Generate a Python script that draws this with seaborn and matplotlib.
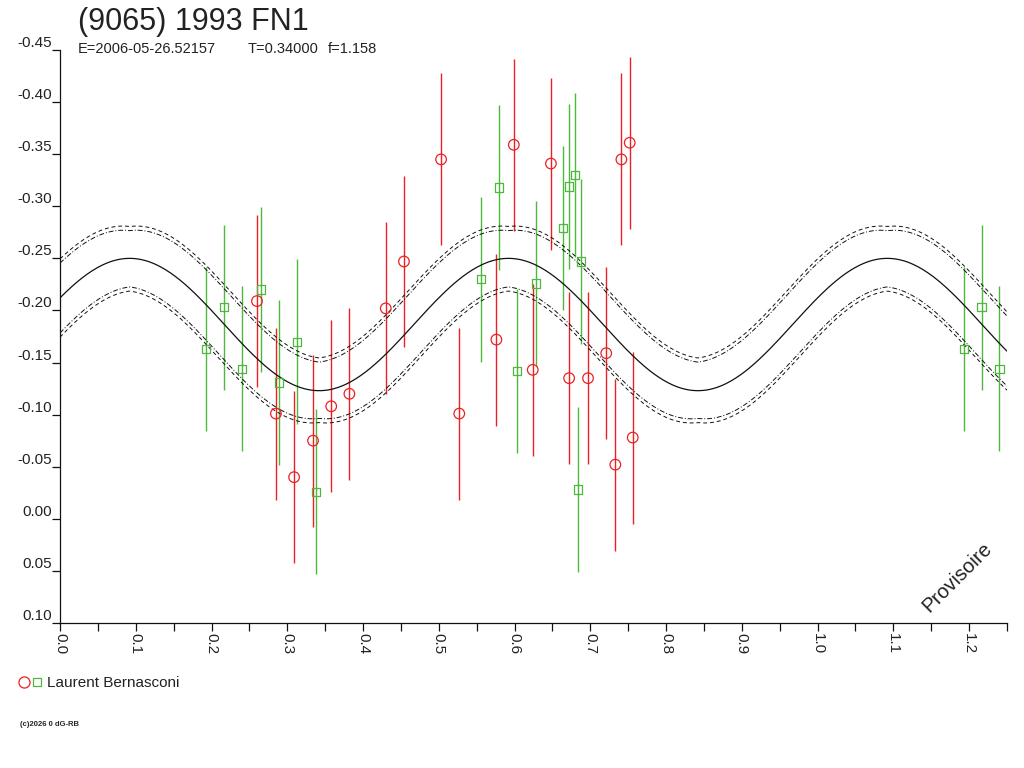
import numpy as np
import pandas as pd
import matplotlib
matplotlib.use("Agg")
import matplotlib.pyplot as plt
from matplotlib.legend_handler import HandlerTuple
from matplotlib.lines import Line2D
import seaborn as sns

red_phase = [0.260, 0.285, 0.309, 0.334, 0.358, 0.382, 0.430, 0.454, 0.503, 0.527, 0.576,
             0.599, 0.624, 0.648, 0.672, 0.697, 0.721, 0.733, 0.741, 0.752, 0.756]
red_mag = [-0.209, -0.101, -0.040, -0.075, -0.108, -0.120, -0.202, -0.247, -0.345, -0.101, -0.172,
           -0.359, -0.143, -0.341, -0.135, -0.135, -0.159, -0.052, -0.345, -0.361, -0.078]
red_err = 0.0825

green_phase = [0.193, 0.2165, 0.240, 0.265, 0.289, 0.313, 0.338, 0.556, 0.5795, 0.603, 0.628,
               0.664, 0.672, 0.680, 0.684, 0.688]
green_mag = [-0.163, -0.203, -0.144, -0.220, -0.131, -0.170, -0.026, -0.230, -0.318, -0.142, -0.226,
             -0.279, -0.319, -0.330, -0.028, -0.247]
green_err = 0.079

# fitted light curve (two maxima per rotation)
fit_mean = -0.1865
fit_amp = 0.0635
fit_peak = 0.092
fit_halfperiod = 0.5
band_outer = 0.031
band_inner = 0.027
band_shift = 0.009

title = "(9065) 1993 FN1"
info = ["E=2006-05-26.52157", "T=0.34000", "f=1.158"]
observer = "Laurent Bernasconi"
red_col = "#ec2024"
green_col = "#4cb83c"

sns.set_theme(style="white")
plt.rcParams["font.family"] = ["Liberation Sans", "DejaVu Sans"]


def model(x):
    return fit_mean - fit_amp * np.cos(2 * np.pi * (x - fit_peak) / fit_halfperiod)


# phases < 0.25 are repeated one cycle later
def wrap(ph, mag):
    df = pd.DataFrame({"phase": ph, "mag": mag})
    extra = df[df["phase"] + 1 <= 1.25].copy()
    extra["phase"] += 1
    return pd.concat([df, extra], ignore_index=True)


red = wrap(red_phase, red_mag)
green = wrap(green_phase, green_mag)

xs = np.linspace(0, 1.25, 600)
lo = np.minimum(model(xs - band_shift), model(xs + band_shift))
hi = np.maximum(model(xs - band_shift), model(xs + band_shift))
curves = pd.DataFrame({
    "phase": xs,
    "fit": model(xs),
    "up_out": lo - band_outer, "up_in": lo - band_inner,
    "dn_out": hi + band_outer, "dn_in": hi + band_inner,
})

fig = plt.figure(figsize=(10.24, 7.68), dpi=100)
ax = fig.add_axes([60 / 1024, 145 / 768, 947 / 1024, 573 / 768])

ax.errorbar(red["phase"], red["mag"], yerr=red_err, fmt="none", ecolor=red_col, elinewidth=1.0)
ax.errorbar(green["phase"], green["mag"], yerr=green_err, fmt="none", ecolor=green_col, elinewidth=1.0)

sns.lineplot(data=curves, x="phase", y="fit", ax=ax, color="#111111", lw=0.9)
sns.lineplot(data=curves, x="phase", y="up_out", ax=ax, color="#111111", lw=0.7, linestyle=(0, (4, 3)))
sns.lineplot(data=curves, x="phase", y="dn_out", ax=ax, color="#111111", lw=0.7, linestyle=(0, (4, 3)))
sns.lineplot(data=curves, x="phase", y="up_in", ax=ax, color="#111111", lw=0.7, linestyle=(0, (5, 2, 1, 2)))
sns.lineplot(data=curves, x="phase", y="dn_in", ax=ax, color="#111111", lw=0.7, linestyle=(0, (5, 2, 1, 2)))

sns.scatterplot(data=red, x="phase", y="mag", ax=ax, marker="o", s=58,
                facecolor="none", edgecolor=red_col, linewidth=0.9, zorder=5)
sns.scatterplot(data=green, x="phase", y="mag", ax=ax, marker="s", s=36,
                facecolor="none", edgecolor=green_col, linewidth=0.9, zorder=5)

ax.set_xlim(0, 1.25)
ax.set_ylim(0.10, -0.45)
ax.set_xlabel("")
ax.set_ylabel("")
for s in ["top", "right"]:
    ax.spines[s].set_visible(False)
for s in ["left", "bottom"]:
    ax.spines[s].set_color("#111111")
    ax.spines[s].set_linewidth(0.9)

yt = np.round(np.arange(-0.45, 0.1001, 0.05), 2)
ax.set_yticks(yt)
ax.set_yticklabels([f"{v:.2f}".replace("-0.00", "0.00") for v in yt])
ax.set_xticks(np.round(np.arange(0, 1.2001, 0.1), 1))
ax.set_xticklabels([f"{v:.1f}" for v in np.arange(0, 1.2001, 0.1)], rotation=270)
ax.set_xticks(np.round(np.arange(0.05, 1.2501, 0.1), 2), minor=True)
ax.tick_params(axis="both", which="both", direction="out", length=6, width=0.9,
               color="#111111", labelsize=11, labelcolor="#222222")
ax.tick_params(axis="x", which="both", bottom=True, pad=1)
ax.tick_params(axis="y", left=True, pad=0)
for lab in ax.get_yticklabels():
    lab.set_verticalalignment("bottom")

fig.text(78 / 1024, 1 - 30 / 768, title, fontsize=22, color="#222222", va="baseline")
for txt, px in zip(info, [78, 248, 328]):
    fig.text(px / 1024, 1 - 53 / 768, txt, fontsize=10.5, color="#222222", va="baseline")

fig.text(957 / 1024, 1 - 577 / 768, "Provisoire", fontsize=14.5, rotation=45,
         ha="center", va="center", color="#222222")

h_red = Line2D([], [], marker="o", ls="none", mfc="none", mec=red_col, ms=8, mew=0.9)
h_green = Line2D([], [], marker="s", ls="none", mfc="none", mec=green_col, ms=6, mew=0.9)
fig.legend(handles=[(h_red, h_green)], labels=[observer],
           handler_map={tuple: HandlerTuple(ndivide=None, pad=0.1)},
           loc="center left", bbox_to_anchor=(18 / 1024, 1 - 683 / 768),
           frameon=False, fontsize=11, handlelength=1.6, handletextpad=0.3,
           borderpad=0, borderaxespad=0, labelcolor="#222222")

fig.text(20 / 1024, 1 - 725 / 768, "(c)2026 0 dG-RB", fontsize=5.5, weight="bold", va="center")

fig.savefig("out.png", dpi=100)
